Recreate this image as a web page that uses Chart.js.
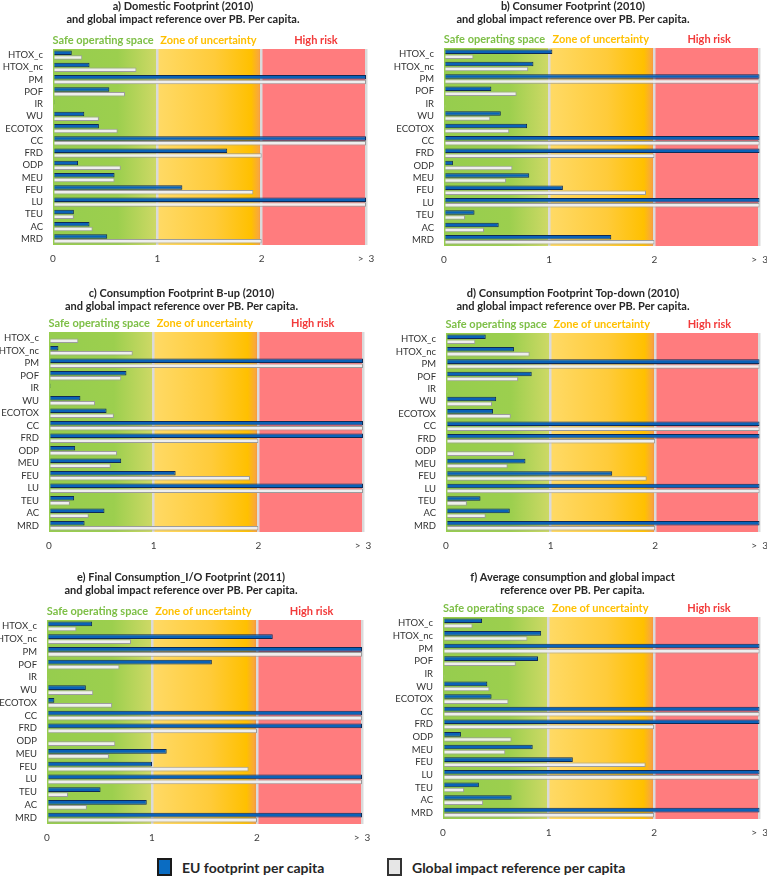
<!DOCTYPE html>
<html>
<head>
<meta charset="utf-8">
<script src="https://cdn.jsdelivr.net/npm/chart.js@4.4.1/dist/chart.umd.min.js"></script>
<style>
  body { margin: 0; background: #fff; width: 767px; height: 879px; overflow: hidden; position: relative; }
  .panel { position: absolute; }
  .legend { position: absolute; top: 857px; height: 20px; display: flex; align-items: center;
            font-family: Lato, sans-serif; font-weight: bold; font-size: 14px; color: #262626; }
  .swatch { width: 11px; height: 14px; border: 2px solid #1a1a1a; margin-right: 10px; }
</style>
</head>
<body>
<div class="panel" id="p0"><canvas id="c0"></canvas></div>
<div class="panel" id="p1"><canvas id="c1"></canvas></div>
<div class="panel" id="p2"><canvas id="c2"></canvas></div>
<div class="panel" id="p3"><canvas id="c3"></canvas></div>
<div class="panel" id="p4"><canvas id="c4"></canvas></div>
<div class="panel" id="p5"><canvas id="c5"></canvas></div>
<div class="legend" style="left:157px"><div class="swatch" style="background:#0A6CC2"></div>EU footprint per capita</div>
<div class="legend" style="left:387px"><div class="swatch" style="background:#E6E6E6;border-color:#333"></div>Global impact reference per capita</div>
<script>
// Impact categories (top to bottom)
const categories = ['HTOX_c', 'HTOX_nc', 'PM', 'POF', 'IR', 'WU', 'ECOTOX', 'CC', 'FRD', 'ODP', 'MEU', 'FEU', 'LU', 'TEU', 'AC', 'MRD'];
const xTickLabels = ['0', '1', '2', '>  3'];
const zoneLabels = ['Safe operating space', 'Zone of uncertainty', 'High risk'];
const seriesNames = ['EU footprint per capita', 'Global impact reference per capita'];

// Global impact reference over PB (same in every panel), capped at 3
const globalReference = [0.28, 0.80, 3, 0.69, 0.006, 0.44, 0.62, 3, 2.0, 0.65, 0.59, 1.92, 3, 0.20, 0.38, 2.0];

// EU footprint per capita over PB, capped at 3
const domestic2010 = [0.18, 0.35, 3, 0.54, 0.015, 0.30, 0.44, 3, 1.67, 0.24, 0.59, 1.24, 3, 0.20, 0.35, 0.52];
const consumer2010 = [1.03, 0.85, 3, 0.45, 0.013, 0.54, 0.79, 3, 3, 0.085, 0.81, 1.13, 3, 0.29, 0.52, 1.59];
const bottomUp2010 = [0, 0.09, 3, 0.74, 0.016, 0.30, 0.55, 3, 3, 0.25, 0.69, 1.21, 3, 0.24, 0.53, 0.34];
const topDown2010 = [0.38, 0.65, 3, 0.82, 0, 0.48, 0.45, 3, 3, 0, 0.76, 1.59, 3, 0.33, 0.61, 3];
const finalIO2011 = [0.43, 2.15, 3, 1.57, 0, 0.37, 0.07, 3, 3, 0, 1.14, 1.00, 3, 0.51, 0.95, 3];
const averageConsumption = [0.37, 0.93, 3, 0.90, 0.013, 0.42, 0.46, 3, 3, 0.17, 0.85, 1.23, 3, 0.34, 0.65, 3];

const subtitle = 'and global impact reference over PB. Per capita.';
const panels = [
    { title: ['a) Domestic Footprint (2010)', subtitle], values: domestic2010,
      left: 0, top: 0, width: 384, height: 265, axisW: 53, padR: 18, gap: 22.6 },
    { title: ['b) Consumer Footprint (2010)', subtitle], values: consumer2010,
      left: 384, top: 0, width: 392, height: 266, axisW: 60, padR: 14, gap: 21.6 },
    { title: ['c) Consumption Footprint B-up (2010)', subtitle], values: bottomUp2010,
      left: 0, top: 287, width: 384, height: 265, axisW: 49, padR: 21, gap: 18.6 },
    { title: ['d) Consumption Footprint Top-down (2010)', subtitle], values: topDown2010,
      left: 384, top: 287, width: 392, height: 265, axisW: 62, padR: 14, gap: 19.6 },
    { title: ['e) Final Consumption_I/O Footprint (2011)', subtitle], values: finalIO2011,
      left: 0, top: 571, width: 384, height: 273, axisW: 47, padR: 22, gap: 22.6 },
    { title: ['f) Average consumption and global impact', 'reference over PB. Per capita.'], values: averageConsumption,
      left: 384, top: 571, width: 392, height: 268, axisW: 59, padR: 15, gap: 19.6 }
];

const fontFamily = 'Lato, sans-serif';

// Coloured PB zones behind the bars
const zonesPlugin = {
    id: 'zones',
    beforeDraw(chart) {
        const { ctx, chartArea: a, scales: { x } } = chart;
        const x0 = x.getPixelForValue(0), x1 = x.getPixelForValue(1);
        const x2 = x.getPixelForValue(2), x3 = x.getPixelForValue(3);
        const h = a.bottom - a.top;
        ctx.save();
        let g = ctx.createLinearGradient(x0, 0, x1, 0);
        g.addColorStop(0, '#96CD4E');
        g.addColorStop(0.62, '#9CCF4E');
        g.addColorStop(1, '#CFD966');
        ctx.fillStyle = g;
        ctx.fillRect(x0, a.top, x1 - x0, h);
        g = ctx.createLinearGradient(x1, 0, x2, 0);
        g.addColorStop(0, '#FFDA66');
        g.addColorStop(0.55, '#FFCB3A');
        g.addColorStop(0.9, '#FFC000');
        g.addColorStop(0.97, '#F9A83A');
        g.addColorStop(1, '#F49040');
        ctx.fillStyle = g;
        ctx.fillRect(x1, a.top, x2 - x1, h);
        ctx.fillStyle = '#FF7C7E';
        ctx.fillRect(x2, a.top, x3 - x2, h);
        ctx.restore();
    },
    afterDraw(chart) {
        const { ctx, chartArea: a, scales: { x } } = chart;
        const colors = ['#7DBF46', '#FFC000', '#F23A3A'];
        const centers = [0.48, 1.49, 2.52];
        ctx.save();
        ctx.font = 'bold 11px ' + fontFamily;
        ctx.textAlign = 'center';
        ctx.textBaseline = 'middle';
        zoneLabels.forEach((t, i) => {
            ctx.fillStyle = colors[i];
            ctx.fillText(t, x.getPixelForValue(centers[i]), a.top - 9);
        });
        ctx.restore();
    }
};

panels.forEach((p, i) => {
    const box = document.getElementById('p' + i);
    box.style.left = p.left + 'px';
    box.style.top = p.top + 'px';
    box.style.width = p.width + 'px';
    box.style.height = p.height + 'px';

    new Chart(document.getElementById('c' + i), {
        type: 'bar',
        data: {
            labels: categories,
            datasets: [
                {
                    label: seriesNames[0],
                    data: p.values,
                    backgroundColor: '#0A62B8',
                    borderColor: '#0F2A56',
                    borderWidth: 1
                },
                {
                    label: seriesNames[1],
                    data: globalReference,
                    backgroundColor: '#EEEEEE',
                    borderColor: '#9C9C9C',
                    borderWidth: 1
                }
            ]
        },
        options: {
            indexAxis: 'y',
            responsive: true,
            maintainAspectRatio: false,
            animation: false,
            categoryPercentage: 0.8,
            barPercentage: 0.92,
            layout: { padding: { left: 0, right: p.padR, top: 0, bottom: 0 } },
            plugins: {
                legend: { display: false },
                tooltip: { enabled: false },
                title: {
                    display: true,
                    text: p.title,
                    color: '#262626',
                    font: { family: fontFamily, size: 11, weight: 'bold', lineHeight: 1.2 },
                    padding: { top: 0, bottom: p.gap }
                }
            },
            scales: {
                x: {
                    min: 0,
                    max: 3,
                    afterFit: s => { s.height = 20; },
                    ticks: {
                        stepSize: 1,
                        padding: 8,
                        color: '#404040',
                        font: { family: fontFamily, size: 10 },
                        callback: v => xTickLabels[v]
                    },
                    grid: {
                        drawTicks: false,
                        lineWidth: 2.5,
                        color: c => c.tick && c.tick.value === 0 ? 'rgba(0,0,0,0)' : '#DADADA'
                    },
                    border: { display: false }
                },
                y: {
                    afterFit: s => { s.width = p.axisW; },
                    ticks: {
                        padding: 2,
                        color: '#333333',
                        font: { family: fontFamily, size: 9.5 },
                        autoSkip: false
                    },
                    grid: { display: false },
                    border: { display: false }
                }
            }
        },
        plugins: [zonesPlugin]
    });
});
</script>
</body>
</html>
